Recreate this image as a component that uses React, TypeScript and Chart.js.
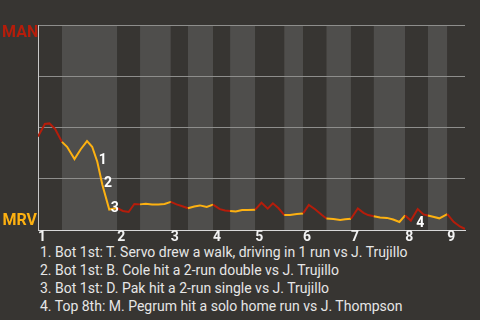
import React, { useEffect, useRef } from "react";
import { Chart, registerables } from "chart.js";

Chart.register(...registerables);

// Game progress (plate-appearance index) and MAN win probability (%)
const gameProgress = [
  0, 1.2, 2.0, 3.0, 4.2, 5.1, 6.4, 7.5, 8.6, 9.5, 10.4, 11.3, 12.5, 13.9, 14.9, 15.9, 16.9, 17.9,
  18.9, 20.0, 21.1, 22.2, 23.3, 24.3, 25.2, 26.3, 27.4, 28.4, 29.6, 30.7, 31.9, 32.8, 33.7, 34.7,
  35.8, 36.8, 38.1, 39.2, 40.3, 41.2, 42.2, 43.2, 44.2, 45.4, 46.5, 47.5, 48.6, 49.8, 50.6, 51.8,
  53.0, 53.9, 54.9, 56.1, 57.1, 57.9, 58.9, 60.0, 61.2, 62.3, 63.4, 64.4, 65.4, 66.6, 67.6, 68.4,
  69.3, 70.4, 71.8, 72.9, 74.0, 74.9,
];
const manWinPct = [
  45.6, 51.7, 52.0, 49.3, 43.0, 40.6, 34.6, 39.4, 43.4, 40.6, 33.3, 22.0, 10.0, 10.7, 9.3, 8.8, 12.7, 12.5,
  12.8, 12.4, 12.4, 12.7, 13.7, 12.5, 11.7, 10.6, 11.5, 12.0, 11.2, 12.4, 10.2, 9.5, 9.3, 9.0,
  9.8, 9.8, 9.9, 13.3, 10.4, 13.0, 10.6, 7.3, 7.3, 7.8, 8.1, 12.2, 10.1, 7.3, 5.6, 5.4,
  4.9, 5.2, 5.5, 10.5, 8.4, 7.3, 6.7, 6.1, 5.9, 5.1, 3.9, 7.1, 4.6, 10.2, 7.6, 7.1,
  6.5, 5.7, 7.7, 4.0, 1.7, 0.5,
];

// Half-inning starts (top 1, bottom 1, top 2, ...)
const halfInningStarts = [0, 4.2, 13.9, 17.9, 23.3, 26.3, 30.7, 33.7, 38.1, 43.2, 46.5, 50.6, 54.9, 58.9, 64.4, 68.4, 71.8];
const gameEnd = 74.9;
const inningLabels = ["1", "2", "3", "4", "5", "6", "7", "8", "9"];

const awayTeam = "MAN";
const homeTeam = "MRV";

const eventPointIndex = [10, 11, 12, 63];
const eventDescriptions = [
  "Bot 1st: T. Servo drew a walk, driving in 1 run vs J. Trujillo",
  "Bot 1st: B. Cole hit a 2-run double vs J. Trujillo",
  "Bot 1st: D. Pak hit a 2-run single vs J. Trujillo",
  "Top 8th: M. Pegrum hit a solo home run vs J. Thompson",
];

const BG = "#373532";
const BAND_TOP = "#373532";
const BAND_BOTTOM = "#4f4e4c";
const RED = "#b51d0b";
const ORANGE = "#fdb111";

function halfIndexAt(x: number) {
  let idx = 0;
  for (let i = 0; i < halfInningStarts.length; i++) {
    if (halfInningStarts[i] <= x + 1e-9) idx = i;
  }
  return idx;
}

export default function App() {
  const ref = useRef<HTMLCanvasElement>(null);

  useEffect(() => {
    const canvas = ref.current;
    if (!canvas) return;

    const topStarts = halfInningStarts.filter((_, i) => i % 2 === 0);

    const wpPlugin = {
      id: "wpDecor",
      beforeDraw(chart: any) {
        const { ctx, chartArea: a, scales } = chart;
        const xs = scales.x;
        ctx.save();
        ctx.fillStyle = BG;
        ctx.fillRect(0, 0, chart.width, chart.height);
        for (let i = 0; i < halfInningStarts.length; i++) {
          const x0 = xs.getPixelForValue(halfInningStarts[i]);
          const x1 = xs.getPixelForValue(i + 1 < halfInningStarts.length ? halfInningStarts[i + 1] : gameEnd);
          ctx.fillStyle = i % 2 === 0 ? BAND_TOP : BAND_BOTTOM;
          ctx.fillRect(x0, a.top, x1 - x0, a.bottom - a.top);
        }
        ctx.restore();
      },
      afterDatasetsDraw(chart: any) {
        const { ctx, scales } = chart;
        ctx.save();
        ctx.font = "bold 14px Roboto";
        ctx.fillStyle = "#ffffff";
        eventPointIndex.forEach((pi, i) => {
          const px = scales.x.getPixelForValue(gameProgress[pi]);
          const py = scales.y.getPixelForValue(manWinPct[pi]);
          const rising = manWinPct[pi] > manWinPct[pi - 1];
          const label = String(i + 1);
          if (rising) {
            ctx.textAlign = "center";
            ctx.textBaseline = "top";
            ctx.fillText(label, px + 2.5, py + 7);
          } else {
            ctx.textAlign = "left";
            ctx.textBaseline = "middle";
            ctx.fillText(label, px + 1.5, py - 1);
          }
        });
        ctx.restore();
      },
      afterDraw(chart: any) {
        const { ctx, chartArea: a } = chart;
        ctx.save();
        ctx.font = "bold 16px Roboto";
        ctx.textAlign = "left";
        ctx.textBaseline = "alphabetic";
        ctx.fillStyle = RED;
        ctx.fillText(awayTeam, 2, a.top + 11.7);
        ctx.fillStyle = ORANGE;
        ctx.fillText(homeTeam, 2.5, a.bottom - 5.5);
        ctx.restore();
      },
    };

    const chart = new Chart(canvas, {
      type: "line",
      data: {
        datasets: [
          {
            data: gameProgress.map((x, i) => ({ x, y: manWinPct[i] })),
            borderWidth: 2,
            pointRadius: 0,
            tension: 0,
            borderColor: RED,
            segment: {
              borderColor: (ctx: any) => {
                const mid = (ctx.p0.parsed.x + ctx.p1.parsed.x) / 2;
                return halfIndexAt(mid) % 2 === 0 ? RED : ORANGE;
              },
            },
          },
        ],
      },
      options: {
        responsive: false,
        animation: false,
        layout: { padding: { left: 38, right: 15, top: 25, bottom: 0 } },
        plugins: { legend: { display: false }, tooltip: { enabled: false } },
        scales: {
          x: {
            type: "linear",
            min: 0,
            max: gameEnd,
            afterBuildTicks: (scale: any) => {
              scale.ticks = topStarts.map((v) => ({ value: v }));
            },
            ticks: {
              align: "start",
              autoSkip: false,
              maxRotation: 0,
              minRotation: 0,
              padding: 0,
              color: "#f2f2f2",
              font: { family: "Roboto", weight: "bold", size: 14, lineHeight: 1 },
              callback: (value: any) => {
                const k = topStarts.indexOf(Number(value));
                return k >= 0 ? inningLabels[k] : "";
              },
            },
            grid: { display: false, drawTicks: false },
            border: { display: true, color: "#d8d8d8", width: 1 },
          },
          y: {
            min: 0,
            max: 100,
            ticks: { display: false, stepSize: 25 },
            grid: { color: "#8e8e8c", lineWidth: 1, drawTicks: false },
            border: { display: true, color: "#c8c8c8", width: 1 },
          },
        },
      },
      plugins: [wpPlugin],
    } as any);

    return () => chart.destroy();
  }, []);

  return (
    <div
      style={{
        position: "fixed",
        left: 0,
        top: 0,
        width: 480,
        height: 320,
        background: BG,
        overflow: "hidden",
      }}
    >
      <canvas ref={ref} width={480} height={244} style={{ display: "block" }} />
      <div
        style={{
          position: "absolute",
          left: 40,
          top: 244.4,
          fontFamily: "Roboto",
          fontSize: 14,
          lineHeight: "17.8px",
          color: "#e6e6e6",
          whiteSpace: "nowrap",
        }}
      >
        {eventDescriptions.map((d, i) => (
          <div key={i}>{`${i + 1}. ${d}`}</div>
        ))}
      </div>
    </div>
  );
}
